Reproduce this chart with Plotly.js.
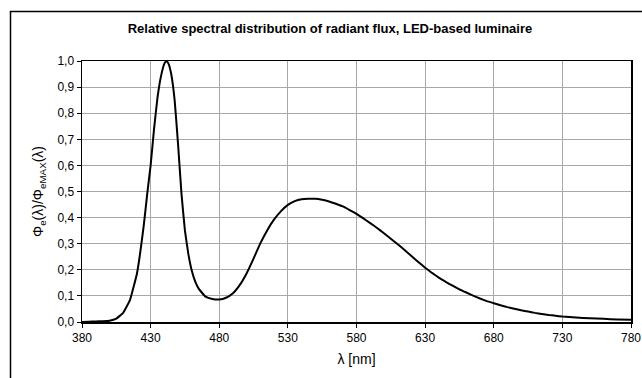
<!DOCTYPE html>
<html>
<head>
<meta charset="utf-8">
<script src="https://cdn.plot.ly/plotly-3.0.1.min.js"></script>
<style>
html,body{margin:0;padding:0;background:#fff;}
#chart{width:642px;height:378px;}
</style>
</head>
<body>
<div id="chart"></div>
<script>
// wavelength in nm
var wavelength = [380,385,390,395,400,405,410,415,420,425,427.5,430,432.5,435,437.5,440,441.5,443,445,447.5,450,452.5,455,457.5,460,462.5,465,470,475,480,485,490,495,500,505,510,515,520,525,530,535,540,545,550,555,560,565,570,575,580,585,590,595,600,605,610,615,620,625,630,635,640,645,650,655,660,665,670,675,680,685,690,695,700,705,710,715,720,725,730,740,750,760,770,780];
// relative radiant flux
var relFlux = [0,0.001,0.002,0.003,0.005,0.013,0.035,0.085,0.185,0.37,0.49,0.60,0.74,0.86,0.94,0.99,1.0,0.99,0.95,0.85,0.68,0.49,0.35,0.26,0.196,0.155,0.128,0.097,0.088,0.086,0.093,0.110,0.142,0.187,0.243,0.302,0.352,0.393,0.425,0.449,0.463,0.470,0.472,0.472,0.468,0.462,0.453,0.443,0.429,0.414,0.397,0.379,0.360,0.340,0.319,0.298,0.276,0.253,0.230,0.208,0.188,0.170,0.154,0.139,0.125,0.113,0.101,0.090,0.080,0.072,0.064,0.057,0.051,0.045,0.040,0.035,0.031,0.027,0.024,0.021,0.017,0.014,0.012,0.010,0.009];
// small second series visible at the origin
var startX = [380,382];
var startY = [0,0];

var titleText = "Relative spectral distribution of radiant flux, LED-based luminaire";
var xTitle = "λ [nm]";
var yTitle = "Φ<sub>e</sub>(λ)/Φ<sub>eMAX</sub>(λ)";

var traces = [
  {x: startX, y: startY, mode: 'lines', line: {color: '#e0a020', width: 2}, hoverinfo: 'skip'},
  {x: wavelength, y: relFlux, mode: 'lines', line: {color: '#000000', width: 2, shape: 'spline', smoothing: 0.3}}
];

var layout = {
  width: 642, height: 378,
  margin: {l: 82, r: 11, t: 61, b: 56},
  paper_bgcolor: '#ffffff', plot_bgcolor: '#ffffff',
  showlegend: false,
  separators: ',.',
  font: {family: 'Liberation Sans, Arial, sans-serif', size: 12, color: '#000'},
  title: {text: '<b>' + titleText + '</b>', x: 0.514, xanchor: 'center', y: 0.926, yanchor: 'middle',
          font: {family: 'Liberation Sans, Arial, sans-serif', size: 13, color: '#000'}},
  xaxis: {
    range: [380, 780], tick0: 380, dtick: 50, tickmode: 'linear',
    showgrid: true, gridcolor: '#a8a8a8', gridwidth: 1,
    showline: true, linecolor: '#000', linewidth: 1.5, mirror: true,
    ticks: 'outside', ticklen: 4, tickcolor: '#000', tickwidth: 1,
    zeroline: false,
    tickfont: {size: 12, color: '#000'},
    title: {text: xTitle, font: {size: 14, color: '#000'}, standoff: 10}
  },
  yaxis: {
    range: [0, 1.0], tick0: 0, dtick: 0.1, tickmode: 'linear', tickformat: '.1f',
    showgrid: true, gridcolor: '#a8a8a8', gridwidth: 1,
    showline: true, linecolor: '#000', linewidth: 1.5, mirror: true,
    ticks: 'outside', ticklen: 4, tickcolor: '#000', tickwidth: 1,
    zeroline: false,
    tickfont: {size: 12, color: '#000'},
    title: {text: yTitle, font: {size: 14, color: '#000'}, standoff: 10}
  },
  shapes: [
    {type: 'rect', xref: 'paper', yref: 'paper',
     x0: (10.5 - 82) / 549, x1: 1.2, y0: -0.5, y1: (322 - 11.5) / 261,
     line: {color: '#000', width: 1.5}, fillcolor: 'rgba(0,0,0,0)', layer: 'above'}
  ]
};

Plotly.newPlot('chart', traces, layout, {displayModeBar: false, staticPlot: true});
</script>
</body>
</html>
